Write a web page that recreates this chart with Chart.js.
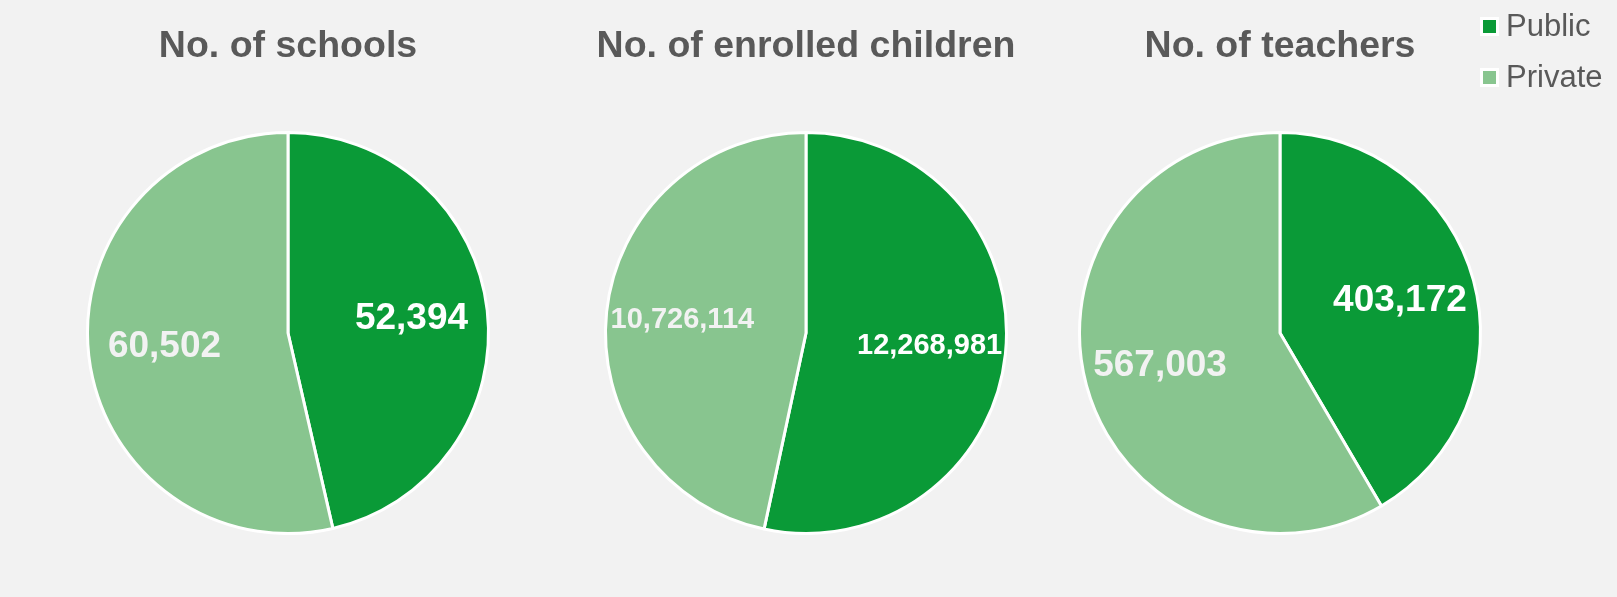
<!DOCTYPE html>
<html>
<head>
<meta charset="utf-8">
<script src="https://cdn.jsdelivr.net/npm/chart.js@4.4.1/dist/chart.umd.min.js"></script>
<style>
  html, body { margin: 0; padding: 0; }
  body { width: 1617px; height: 597px; background: #f2f2f2; position: relative; overflow: hidden;
         font-family: 'Liberation Sans', Arial, sans-serif; }
  .pie { position: absolute; top: 0; width: 500px; height: 535px; }
  .legend { position: absolute; left: 1480px; top: 8px; color: #595959; font-size: 31px; }
  .legend div { height: 51px; line-height: 36px; position: relative; padding-left: 26px; }
  .legend span.sw { position: absolute; left: 0; top: 9px; width: 13px; height: 13px; border: 3px solid #fff; }
</style>
</head>
<body>
<div class="pie" style="left:38px"><canvas id="pie1"></canvas></div>
<div class="pie" style="left:556px"><canvas id="pie2"></canvas></div>
<div class="pie" style="left:1030px"><canvas id="pie3"></canvas></div>
<div class="legend" id="legend"></div>

<script>
// Public vs private: schools, enrolled children, teachers
const categories = ['Public', 'Private'];
const titles = ['No. of schools', 'No. of enrolled children', 'No. of teachers'];
const schools = [52394, 60502];
const children = [12268981, 10726114];
const teachers = [403172, 567003];

const sliceColors = ['#0a9a37', '#88c58f'];
const labelColors = ['#ffffff', '#f2f2f2'];
const labelSizes = [37, 29, 37];

// small plugin for the value labels inside slices
const sliceLabels = {
    id: 'sliceLabels',
    afterDatasetsDraw(chart, args, opts) {
        const ctx = chart.ctx;
        const meta = chart.getDatasetMeta(0);
        const values = chart.data.datasets[0].data;
        ctx.save();
        ctx.font = 'bold ' + opts.size + 'px "Liberation Sans", Arial, sans-serif';
        ctx.textAlign = 'center';
        ctx.textBaseline = 'middle';
        meta.data.forEach((arc, i) => {
            const mid = (arc.startAngle + arc.endAngle) / 2;
            const r = arc.outerRadius * 0.62;
            const x = arc.x + Math.cos(mid) * r;
            const y = arc.y + Math.sin(mid) * r;
            ctx.fillStyle = labelColors[i];
            ctx.fillText(values[i].toLocaleString('en-US'), x, y);
        });
        ctx.restore();
    }
};

function makePie(id, title, values, size) {
    new Chart(document.getElementById(id), {
        type: 'pie',
        data: {
            labels: categories,
            datasets: [{
                data: values,
                backgroundColor: sliceColors,
                borderColor: '#ffffff',
                borderWidth: 3
            }]
        },
        options: {
            responsive: true,
            maintainAspectRatio: false,
            animation: false,
            layout: { padding: 0 },
            plugins: {
                legend: { display: false },
                tooltip: { enabled: false },
                title: {
                    display: true,
                    text: title,
                    color: '#595959',
                    font: { family: "'Liberation Sans', Arial, sans-serif", size: 37.5, weight: 'bold', lineHeight: 1.2 },
                    padding: { top: 24, bottom: 62 }
                },
                sliceLabels: { size: size }
            }
        },
        plugins: [sliceLabels]
    });
}

makePie('pie1', titles[0], schools, labelSizes[0]);
makePie('pie2', titles[1], children, labelSizes[1]);
makePie('pie3', titles[2], teachers, labelSizes[2]);

const legend = document.getElementById('legend');
categories.forEach((c, i) => {
    const row = document.createElement('div');
    row.innerHTML = '<span class="sw" style="background:' + sliceColors[i] + '"></span>' + c;
    legend.appendChild(row);
});
</script>
</body>
</html>
